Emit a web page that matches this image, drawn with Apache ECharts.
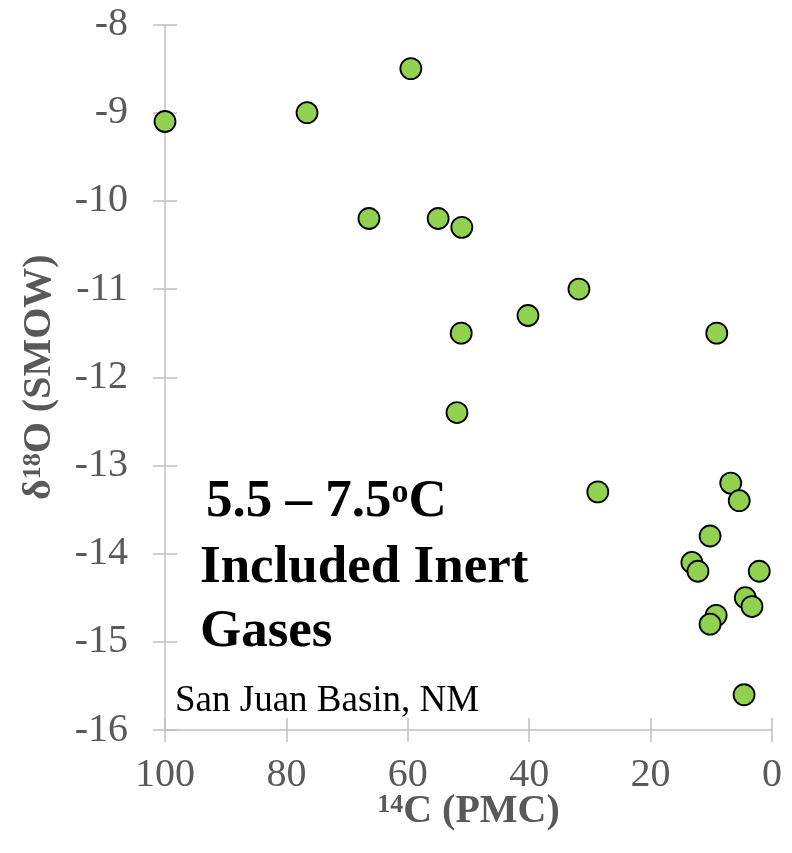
<!DOCTYPE html>
<html>
<head>
<meta charset="utf-8">
<script src="https://cdn.jsdelivr.net/npm/echarts@6/dist/echarts.min.js"></script>
<style>html,body{margin:0;padding:0;background:#fff}#c{width:792px;height:853px}</style>
</head>
<body>
<div id="c"></div>
<script>
const pmc = [100, 76.6, 59.5, 66.4, 55.0, 51.1, 31.8, 40.2, 51.2, 9.1, 51.9, 28.7, 6.8, 5.4, 10.2, 13.2, 12.2, 2.1, 4.4, 3.3, 9.2, 10.2, 4.6];
const d18O = [-9.1, -9.0, -8.5, -10.2, -10.2, -10.3, -11.0, -11.3, -11.5, -11.5, -12.4, -13.3, -13.2, -13.4, -13.8, -14.1, -14.2, -14.2, -14.5, -14.6, -14.7, -14.8, -15.6];
const xTicks = [0, 20, 40, 60, 80, 100];
const yTicks = [-16, -15, -14, -13, -12, -11, -10, -9, -8];

const FONT = '"Liberation Serif", "Times New Roman", serif';
const GRAY = '#595959';
const AXIS = '#c0c0c0';

const chart = echarts.init(document.getElementById('c'));
const gridRect = { left: 165, right: 20, top: 24.5, bottom: 123 };
const baseX = {
  type: 'value', min: xTicks[0], max: xTicks[xTicks.length - 1], interval: 20, inverse: true,
  splitLine: { show: false }
};
const baseY = {
  type: 'value', min: yTicks[0], max: yTicks[yTicks.length - 1], interval: 1,
  splitLine: { show: false }
};
const tickStyle = { color: AXIS, width: 1.5 };
chart.setOption({
  animation: false,
  grid: [Object.assign({}, gridRect), Object.assign({}, gridRect)],
  xAxis: [
    Object.assign({}, baseX, {
      gridIndex: 0, position: 'bottom',
      axisLine: { show: true, onZero: false, lineStyle: { color: AXIS, width: 1.5 } },
      axisTick: { show: true, inside: false, length: 12, lineStyle: tickStyle },
      axisLabel: { color: GRAY, fontFamily: FONT, fontSize: 40, margin: 25 },
      name: '{sup|14}{b|C (PMC)}',
      nameLocation: 'middle', nameGap: 62, nameMoveOverlap: false,
      nameTextStyle: {
        rich: {
          sup: { fontFamily: FONT, fontWeight: 'bold', fontSize: 26, color: GRAY, verticalAlign: 'top', lineHeight: 40 },
          b: { fontFamily: FONT, fontWeight: 'bold', fontSize: 40, color: GRAY, lineHeight: 40 }
        }
      }
    }),
    Object.assign({}, baseX, {
      gridIndex: 1, position: 'bottom',
      axisLine: { show: false, onZero: false },
      axisTick: { show: true, inside: true, length: 12, lineStyle: tickStyle },
      axisLabel: { show: false }
    })
  ],
  yAxis: [
    Object.assign({}, baseY, {
      gridIndex: 0, position: 'left',
      axisLine: { show: true, onZero: false, lineStyle: { color: AXIS, width: 1.5 } },
      axisTick: { show: true, inside: false, length: 12, lineStyle: tickStyle },
      axisLabel: { color: GRAY, fontFamily: FONT, fontSize: 40, margin: 37 },
      name: '{b|δ}{sup|18}{b|O (SMOW)}',
      nameLocation: 'middle', nameGap: 105, nameRotate: 90, nameMoveOverlap: false,
      nameTextStyle: {
        rich: {
          sup: { fontFamily: FONT, fontWeight: 'bold', fontSize: 26, color: GRAY, verticalAlign: 'top', lineHeight: 40 },
          b: { fontFamily: FONT, fontWeight: 'bold', fontSize: 40, color: GRAY, lineHeight: 40 }
        }
      }
    }),
    Object.assign({}, baseY, {
      gridIndex: 1, position: 'left',
      axisLine: { show: false, onZero: false },
      axisTick: { show: true, inside: true, length: 12, lineStyle: tickStyle },
      axisLabel: { show: false }
    })
  ],
  series: [{
    type: 'scatter',
    xAxisIndex: 0, yAxisIndex: 0,
    data: pmc.map((v, i) => [v, d18O[i]]),
    symbol: 'circle', symbolSize: 21,
    itemStyle: { color: '#92D050', borderColor: '#000', borderWidth: 1.8, opacity: 1 }
  }],
  graphic: [
    {
      type: 'text', left: 206, top: 476,
      style: {
        text: '{b|5.5 – 7.5}{sup|o}{b|C}',
        rich: {
          b: { fontFamily: FONT, fontWeight: 'bold', fontSize: 53, fill: '#000', lineHeight: 53 },
          sup: { fontFamily: FONT, fontWeight: 'bold', fontSize: 34, fill: '#000', verticalAlign: 'top', lineHeight: 53 }
        }
      }
    },
    {
      type: 'text', left: 200, top: 536,
      style: {
        text: 'Included Inert\nGases',
        fontFamily: FONT, fontWeight: 'bold', fontSize: 53, fill: '#000', lineHeight: 64
      }
    },
    {
      type: 'text', left: 175, top: 683,
      style: {
        text: 'San Juan Basin, NM',
        fontFamily: FONT, fontSize: 37, fill: '#000'
      }
    }
  ]
});
</script>
</body>
</html>
